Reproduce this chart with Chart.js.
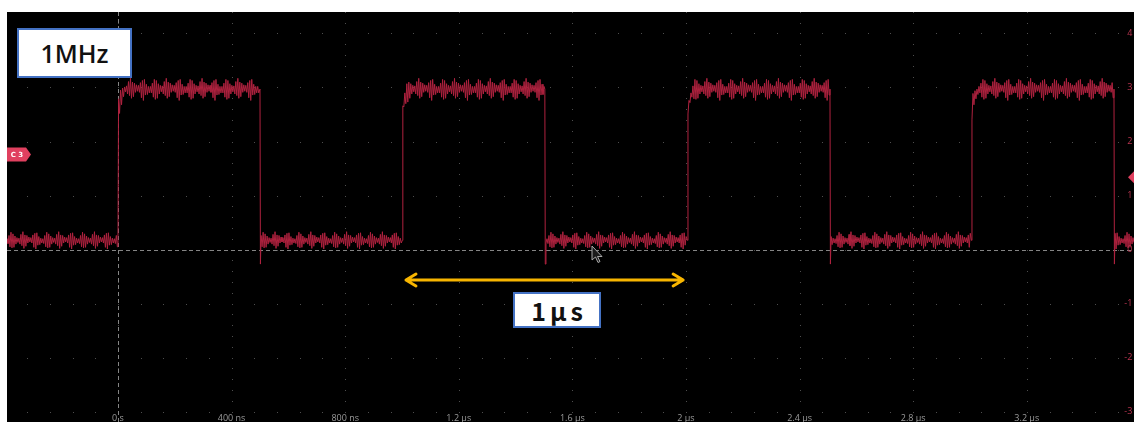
<!DOCTYPE html>
<html>
<head>
<meta charset="utf-8">
<script src="https://cdn.jsdelivr.net/npm/chart.js@4.4.1/dist/chart.umd.min.js"></script>
<style>
  html, body { margin: 0; padding: 0; background: #fff; }
  body { width: 1134px; height: 422px; position: relative; overflow: hidden; }
  #scope { position: absolute; left: 7px; top: 12px; width: 1127px; height: 410px; background: #000; }
  .tag {
    position: absolute; background: #fff; border: 2px solid #4472c4; box-sizing: border-box;
    display: flex; align-items: center; justify-content: center; color: #111;
  }
  #freq { left: 17px; top: 28px; width: 115px; height: 50px; font: 600 25px "Open Sans", sans-serif; }
  #period { left: 513px; top: 292px; width: 88px; height: 36px; font: bold 25px "Noto Sans CJK JP", sans-serif; letter-spacing: 4px; padding-left: 4px; }
  #cursor { position: absolute; left: 590px; top: 244px; }
</style>
</head>
<body>
<div id="scope"><canvas id="scope-chart" width="1127" height="410"></canvas></div>
<div class="tag" id="freq">1MHz</div>
<div class="tag" id="period">1μs</div>
<svg id="cursor" width="16" height="22">
  <polygon points="2,2 2,16 5.5,13 8,18.5 10,17.5 7.5,12.5 12,12.5" fill="#1c1c1c" stroke="#a8a8a8" stroke-width="1"/>
</svg>
<script>
(function () {
  "use strict";

  // axes (µs / V)
  var xTickValues = [0, 0.4, 0.8, 1.2, 1.6, 2.0, 2.4, 2.8, 3.2];
  var xTickLabels = ["0 s", "400 ns", "800 ns", "1.2 µs", "1.6 µs", "2 µs", "2.4 µs", "2.8 µs", "3.2 µs"];
  var yTickValues = [4, 3, 2, 1, 0, -1, -2, -3];
  var yTickLabels = ["4 V", "3 V", "2 V", "1 V", "0 V", "-1 V", "-2 V", "-3 V"];
  var xMin = -0.3908, xMax = 3.5775;
  var yMin = -3.194, yMax = 4.398;

  // C3 square wave
  var risingEdges = [0.0, 1.001, 2.005, 3.005];
  var fallingEdges = [0.5, 1.503, 2.507, 3.507];
  var lowLevel = 0.17;
  var highLevel = 2.97;
  var undershoot = -0.27;
  var riseSettle = [-0.36, -0.26, -0.18, -0.12, -0.08, -0.05, -0.03];
  // a few bursts of the ringing riding on each level (V)
  var rippleLow = [
    0.03, -0.06, 0.09, -0.12, 0.15, -0.14, 0.12, -0.13, 0.08, -0.07, 0.05, -0.04,
    0.04, -0.07, 0.11, -0.10, 0.16, -0.15, 0.10, -0.11, 0.09, -0.05, 0.06, -0.03,
    0.05, -0.05, 0.10, -0.13, 0.13, -0.16, 0.14, -0.09, 0.07, -0.08, 0.04, -0.05,
  ];
  var rippleHigh = [
    0.05, -0.07, 0.11, -0.15, 0.18, -0.19, 0.16, -0.17, 0.10, -0.09, 0.07, -0.05,
    0.06, -0.09, 0.14, -0.12, 0.20, -0.17, 0.13, -0.14, 0.11, -0.06, 0.08, -0.04,
    0.07, -0.06, 0.12, -0.16, 0.16, -0.21, 0.18, -0.11, 0.09, -0.10, 0.05, -0.07,
  ];
  var sampleStep = 0.0035;

  var triggerLevel = 1.34;
  var c3Marker = 1.76;
  var spanStart = 1.014, spanEnd = 1.99, spanLevel = -0.565;

  function buildTrace() {
    var edges = risingEdges
      .map(function (t) { return { t: t, up: true }; })
      .concat(fallingEdges.map(function (t) { return { t: t, up: false }; }))
      .sort(function (a, b) { return a.t - b.t; });
    edges.push({ t: xMax + sampleStep, up: null });
    var pts = [];
    var n = 0;
    var high = false;
    var start = xMin;
    edges.forEach(function (e) {
      for (var k = 0; start + k * sampleStep < e.t - 0.001; k++, n++) {
        var rip = high ? rippleHigh : rippleLow;
        var v = (high ? highLevel : lowLevel) + rip[n % rip.length];
        if (high && k < riseSettle.length) v += riseSettle[k];
        pts.push({ x: start + k * sampleStep, y: v });
      }
      if (e.up === true) {
        pts.push({ x: e.t, y: lowLevel });
        start = e.t + 0.002;
      } else if (e.up === false) {
        pts.push({ x: e.t, y: highLevel });
        pts.push({ x: e.t + 0.0015, y: undershoot });
        start = e.t + 0.004;
      }
      if (e.up !== null) high = e.up;
    });
    return pts;
  }

  var graticule = {
    id: "graticule",
    beforeDatasetsDraw: function (chart) {
      var ctx = chart.ctx, xs = chart.scales.x, ys = chart.scales.y, a = chart.chartArea;
      ctx.save();
      ctx.fillStyle = "#4e4e4e";
      yTickValues.forEach(function (v) {
        var py = Math.round(ys.getPixelForValue(v));
        for (var k = -5; k <= 45; k++) {
          var px = Math.round(xs.getPixelForValue(k * 0.08));
          if (px >= a.left && px < a.right) ctx.fillRect(px, py, 1, 1);
        }
      });
      xTickValues.forEach(function (t) {
        var px = Math.round(xs.getPixelForValue(t));
        for (var k = -17; k <= 23; k++) {
          var py = Math.round(ys.getPixelForValue(k * 0.2));
          if (py >= a.top && py < a.bottom) ctx.fillRect(px, py, 1, 1);
        }
      });
      // ground and trigger-position dashes
      ctx.strokeStyle = "#858585";
      ctx.lineWidth = 1;
      ctx.setLineDash([4, 3]);
      var y0 = Math.round(ys.getPixelForValue(0)) + 0.5;
      var x0 = Math.round(xs.getPixelForValue(0)) + 0.5;
      ctx.beginPath();
      ctx.moveTo(a.left, y0);
      ctx.lineTo(a.right, y0);
      ctx.moveTo(x0, a.top);
      ctx.lineTo(x0, a.bottom);
      ctx.stroke();
      ctx.restore();
    },
  };

  var overlay = {
    id: "overlay",
    afterDatasetsDraw: function (chart) {
      var ctx = chart.ctx, xs = chart.scales.x, ys = chart.scales.y, a = chart.chartArea;
      ctx.save();

      ctx.font = '9px "Open Sans", sans-serif';
      ctx.fillStyle = "#9a9a9a";
      ctx.textAlign = "center";
      ctx.textBaseline = "alphabetic";
      xTickValues.forEach(function (t, i) {
        ctx.fillText(xTickLabels[i], xs.getPixelForValue(t), a.bottom - 1);
      });

      ctx.fillStyle = "#b9344f";
      ctx.textAlign = "right";
      ctx.textBaseline = "middle";
      yTickValues.forEach(function (v, i) {
        ctx.fillText(yTickLabels[i], a.right + 6, ys.getPixelForValue(v));
      });

      // trigger level marker
      var ty = ys.getPixelForValue(triggerLevel);
      ctx.fillStyle = "#e0405f";
      ctx.beginPath();
      ctx.moveTo(a.right - 6, ty);
      ctx.lineTo(a.right, ty - 6);
      ctx.lineTo(a.right, ty + 6);
      ctx.closePath();
      ctx.fill();

      // channel tag
      var cy = ys.getPixelForValue(c3Marker);
      ctx.beginPath();
      ctx.moveTo(a.left, cy - 7);
      ctx.lineTo(a.left + 19, cy - 7);
      ctx.lineTo(a.left + 24, cy);
      ctx.lineTo(a.left + 19, cy + 7);
      ctx.lineTo(a.left, cy + 7);
      ctx.closePath();
      ctx.fill();
      ctx.fillStyle = "#ffffff";
      ctx.font = 'bold 7px "DejaVu Sans", sans-serif';
      ctx.textAlign = "center";
      ctx.fillText("C 3", a.left + 10, cy + 0.5);

      // 1 µs span arrow
      var x1 = xs.getPixelForValue(spanStart), x2 = xs.getPixelForValue(spanEnd);
      var sy = ys.getPixelForValue(spanLevel);
      ctx.strokeStyle = "#f7b500";
      ctx.lineWidth = 3;
      ctx.lineCap = "round";
      ctx.lineJoin = "round";
      ctx.beginPath();
      ctx.moveTo(x1, sy);
      ctx.lineTo(x2, sy);
      ctx.moveTo(x1 + 10, sy - 6);
      ctx.lineTo(x1, sy);
      ctx.lineTo(x1 + 10, sy + 6);
      ctx.moveTo(x2 - 10, sy - 6);
      ctx.lineTo(x2, sy);
      ctx.lineTo(x2 - 10, sy + 6);
      ctx.stroke();

      ctx.restore();
    },
  };

  new Chart(document.getElementById("scope-chart"), {
    type: "line",
    data: {
      datasets: [
        {
          label: "C3",
          data: buildTrace(),
          borderColor: "#b0223f",
          borderWidth: 1,
          pointRadius: 0,
          tension: 0,
        },
      ],
    },
    options: {
      responsive: false,
      animation: false,
      events: [],
      layout: { padding: 0 },
      plugins: { legend: { display: false }, tooltip: { enabled: false } },
      scales: {
        x: { type: "linear", min: xMin, max: xMax, display: false },
        y: { type: "linear", min: yMin, max: yMax, display: false },
      },
    },
    plugins: [graticule, overlay],
  });
})();
</script>
</body>
</html>
